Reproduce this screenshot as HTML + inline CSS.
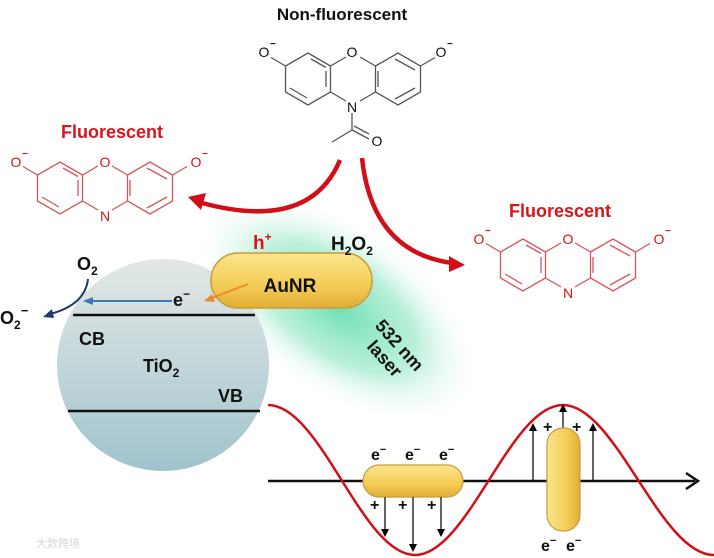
<!DOCTYPE html>
<html><head><meta charset="utf-8"><style>
html,body{margin:0;padding:0;background:#fff;}
svg{display:block;font-family:"Liberation Sans",Arial,sans-serif;font-weight:bold;}
</style></head><body>
<svg width="714" height="558" viewBox="0 0 714 558" xmlns="http://www.w3.org/2000/svg">
<defs>
<radialGradient id="glow" cx="0.5" cy="0.5" r="0.5">
<stop offset="0" stop-color="#5fdcae" stop-opacity="0.9"/>
<stop offset="0.55" stop-color="#8ee6c2" stop-opacity="0.6"/>
<stop offset="1" stop-color="#ffffff" stop-opacity="0"/>
</radialGradient>
<linearGradient id="sph" x1="0" y1="0" x2="0" y2="1">
<stop offset="0" stop-color="#e3e7e6"/>
<stop offset="0.5" stop-color="#c3d6da"/>
<stop offset="1" stop-color="#9fc3cd"/>
</linearGradient>
<linearGradient id="gold" x1="0" y1="0" x2="0" y2="1">
<stop offset="0" stop-color="#fbe58e"/>
<stop offset="0.6" stop-color="#f3cc55"/>
<stop offset="1" stop-color="#e2ad35"/>
</linearGradient>
<linearGradient id="goldv" x1="0" y1="0" x2="1" y2="0">
<stop offset="0" stop-color="#fbe58e"/>
<stop offset="0.6" stop-color="#f3cc55"/>
<stop offset="1" stop-color="#e2ad35"/>
</linearGradient>
<g id="skel" fill="none" stroke-width="1.3">
<path d="M0,-26 L22.5,-13 L22.5,13 L0,26 L-22.5,13 L-22.5,-13 Z"/>
<path d="M67.5,-13 L90,-26 L112.5,-13 L112.5,13 L90,26 L67.5,13 Z"/>
<path d="M22.5,-13 L38,-22 M52,-22 L67.5,-13 M22.5,13 L38,22 M52,22 L67.5,13"/>
<path d="M-22.5,-13 L-37,-21.5 M112.5,-13 L127,-21.5"/>
<path d="M3,-20 L18,-11.5 M18,-8 L18,8 M-18,9 L-1,19 M70,-8 L70,8 M87,-20 L107,-9 M87,20 L107,9"/>
</g>
<marker id="ah" markerWidth="8" markerHeight="8" refX="6" refY="4" orient="auto" markerUnits="userSpaceOnUse"><path d="M0,0 L8,4 L0,8 Z" fill="#000"/></marker>
</defs>

<!-- glow -->
<ellipse cx="338" cy="308" rx="165" ry="85" transform="rotate(35 338 308)" fill="url(#glow)"/>

<!-- title -->
<text x="342" y="20" font-size="17" text-anchor="middle" fill="#111">Non-fluorescent</text>

<!-- top molecule -->
<g stroke="#555" transform="translate(308,79)"><use href="#skel"/></g>
<g font-size="14" fill="#111" text-anchor="middle" font-weight="normal">
<text x="352" y="57">O</text><text x="352" y="112">N</text>
<text x="264" y="57">O</text><text x="441" y="57">O</text>
</g>
<text x="270" y="47" font-size="10" fill="#111">−</text>
<text x="447" y="47" font-size="10" fill="#111">−</text>
<path d="M352,113 L352,130 L332,142 M352,130 L369,139 M354,126 L369,134" stroke="#555" stroke-width="1.3" fill="none"/>
<text x="377" y="146" font-size="14" fill="#111" text-anchor="middle" font-weight="normal">O</text>

<!-- left red molecule -->
<text x="112" y="138" font-size="18" text-anchor="middle" fill="#d9141b">Fluorescent</text>
<g stroke="#d6545a" transform="translate(60,188)"><use href="#skel"/></g>
<g font-size="14" fill="#d9141b" text-anchor="middle" font-weight="normal">
<text x="105" y="167">O</text><text x="105" y="221">N</text>
<text x="16" y="167">O</text><text x="196" y="167">O</text>
</g>
<text x="22" y="157" font-size="10" fill="#d9141b">−</text>
<text x="202" y="157" font-size="10" fill="#d9141b">−</text>

<!-- right red molecule -->
<text x="560" y="217" font-size="18" text-anchor="middle" fill="#d9141b">Fluorescent</text>
<g stroke="#d6545a" transform="translate(523,265)"><use href="#skel"/></g>
<g font-size="14" fill="#d9141b" text-anchor="middle" font-weight="normal">
<text x="568" y="244">O</text><text x="568" y="298">N</text>
<text x="479" y="244">O</text><text x="659" y="244">O</text>
</g>
<text x="485" y="234" font-size="10" fill="#d9141b">−</text>
<text x="665" y="234" font-size="10" fill="#d9141b">−</text>

<!-- red curved arrows -->
<path d="M340,160 Q310,232 202,203" stroke="#d10f17" stroke-width="4.5" fill="none"/>
<path d="M188,197 L206,193 L201,210 Z" fill="#d10f17"/>
<path d="M362,158 Q372,252 452,263" stroke="#d10f17" stroke-width="4.5" fill="none"/>
<path d="M465,265 L449,256 L449,272 Z" fill="#d10f17"/>

<!-- sphere -->
<circle cx="163" cy="365" r="106" fill="url(#sph)"/>
<line x1="73" y1="315" x2="255" y2="315" stroke="#111" stroke-width="2.5"/>
<line x1="68" y1="411" x2="260" y2="411" stroke="#111" stroke-width="2.5"/>
<text x="79" y="345" font-size="18" fill="#111">CB</text>
<text x="143" y="372" font-size="18" fill="#111">TiO<tspan font-size="12" dy="5">2</tspan></text>
<text x="218" y="402" font-size="18" fill="#111">VB</text>
<text x="77" y="270" font-size="18" fill="#111">O<tspan font-size="12" dy="5">2</tspan></text>
<text x="0" y="324" font-size="18" fill="#111">O<tspan font-size="12" dy="5">2</tspan><tspan font-size="13" dy="-14">−</tspan></text>
<path d="M88,279 Q85,305 50,314" stroke="#1d3a6a" stroke-width="2" fill="none"/>
<path d="M43,317 L52,309 L54,318 Z" fill="#1d3a6a"/>
<line x1="172" y1="301" x2="92" y2="301" stroke="#3b78b8" stroke-width="2"/>
<path d="M83,301 L93,297 L93,305 Z" fill="#3b78b8"/>
<text x="173" y="306" font-size="18" fill="#111">e<tspan font-size="12" dy="-8">−</tspan></text>

<!-- AuNR -->
<rect x="211" y="253" width="161" height="55" rx="27" fill="url(#gold)" stroke="#c99c3a" stroke-width="1.5"/>
<text x="290" y="292" font-size="19" text-anchor="middle" fill="#111">AuNR</text>
<line x1="248" y1="284" x2="212" y2="298" stroke="#ee8a2a" stroke-width="2"/>
<path d="M204,301 L212,294 L215,302 Z" fill="#ee8a2a"/>
<text x="253" y="249" font-size="19" fill="#d9141b">h<tspan font-size="12" dy="-8">+</tspan></text>
<text x="331" y="250" font-size="19" fill="#111">H<tspan font-size="12" dy="5">2</tspan><tspan dy="-5">O</tspan><tspan font-size="12" dy="5">2</tspan></text>

<!-- laser text -->
<g transform="translate(392,352) rotate(48)" font-size="18" fill="#111" text-anchor="middle">
<text x="0" y="-4">532 nm</text>
<text x="0" y="16">laser</text>
</g>

<!-- wave -->
<line x1="268" y1="481" x2="695" y2="481" stroke="#111" stroke-width="2.5"/>
<path d="M686,473 L698,481 L686,489" stroke="#111" stroke-width="2.5" fill="none"/>
<path d="M268,405 C321,405 362,555 415,555 C468,555 510,405 563,405 C616,405 660,555 714,555" stroke="#d10f17" stroke-width="2.5" fill="none"/>

<!-- horizontal rod -->
<rect x="363" y="465" width="100" height="32" rx="16" fill="url(#gold)" stroke="#c99c3a" stroke-width="1.2"/>
<g font-size="16" fill="#111">
<text x="371" y="460">e<tspan font-size="11" dy="-7">−</tspan></text>
<text x="405" y="460">e<tspan font-size="11" dy="-7">−</tspan></text>
<text x="439" y="460">e<tspan font-size="11" dy="-7">−</tspan></text>
<text x="370" y="510">+</text><text x="398" y="510">+</text><text x="427" y="510">+</text>
<text x="543" y="432">+</text><text x="572" y="432">+</text>
<text x="541" y="551">e<tspan font-size="11" dy="-7">−</tspan></text>
<text x="566" y="551">e<tspan font-size="11" dy="-7">−</tspan></text>
</g>
<g stroke="#111" stroke-width="1.3" marker-end="url(#ah)">
<line x1="385" y1="497" x2="385" y2="535"/>
<line x1="413" y1="497" x2="413" y2="550"/>
<line x1="441" y1="497" x2="441" y2="535"/>
<line x1="533" y1="481" x2="533" y2="425"/>
<line x1="563" y1="428" x2="563" y2="406"/>
<line x1="593" y1="481" x2="593" y2="425"/>
</g>
<!-- vertical rod -->
<rect x="547" y="428" width="33" height="103" rx="16" fill="url(#goldv)" stroke="#c99c3a" stroke-width="1.2"/>

<!-- watermark -->
<text x="36" y="547" font-size="11" fill="#d8d8d8" font-weight="normal" font-family="'Liberation Sans','Noto Sans CJK SC',sans-serif">大数跨境</text>
</svg>
</body></html>
